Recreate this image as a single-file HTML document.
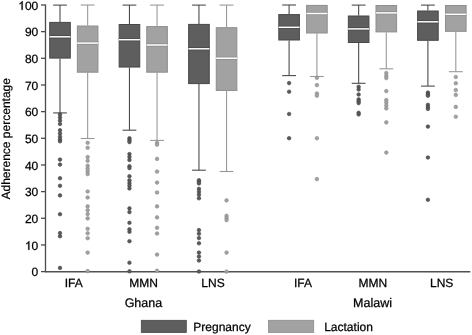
<!DOCTYPE html>
<html><head><meta charset="utf-8"><style>
html,body{margin:0;padding:0;background:#fff;width:472px;height:335px;overflow:hidden}
svg{display:block;will-change:transform}
text{text-rendering:geometricPrecision;font-family:"Liberation Sans",sans-serif;font-size:12px;fill:#000;stroke:#000;stroke-width:0.25px}
</style></head><body>
<svg width="472" height="335" viewBox="0 0 472 335">
<line x1="45.5" y1="4.40" x2="45.5" y2="272.30" stroke="#4a4a4a" stroke-width="1.3"/>
<line x1="45" y1="271.70" x2="470.3" y2="271.70" stroke="#505050" stroke-width="1.5"/>
<line x1="41" y1="271.60" x2="45.5" y2="271.60" stroke="#4a4a4a" stroke-width="1.3"/>
<text x="38.3" y="276.40" text-anchor="end">0</text>
<line x1="41" y1="244.94" x2="45.5" y2="244.94" stroke="#4a4a4a" stroke-width="1.3"/>
<text x="38.3" y="249.74" text-anchor="end">0</text>
<path d="M29.34,249.74 L29.34,241.14 L28.66,241.14 L28.16,241.94 L27.36,242.74 L26.31,243.29 L26.31,244.29 L27.26,243.79 L28.26,243.04 L28.26,249.74 Z" fill="#000" stroke="#000" stroke-width="0.35"/>
<line x1="41" y1="218.28" x2="45.5" y2="218.28" stroke="#4a4a4a" stroke-width="1.3"/>
<text x="38.3" y="223.08" text-anchor="end">20</text>
<line x1="41" y1="191.62" x2="45.5" y2="191.62" stroke="#4a4a4a" stroke-width="1.3"/>
<text x="38.3" y="196.42" text-anchor="end">30</text>
<line x1="41" y1="164.96" x2="45.5" y2="164.96" stroke="#4a4a4a" stroke-width="1.3"/>
<text x="38.3" y="169.76" text-anchor="end">40</text>
<line x1="41" y1="138.30" x2="45.5" y2="138.30" stroke="#4a4a4a" stroke-width="1.3"/>
<text x="38.3" y="143.10" text-anchor="end">50</text>
<line x1="41" y1="111.64" x2="45.5" y2="111.64" stroke="#4a4a4a" stroke-width="1.3"/>
<text x="38.3" y="116.44" text-anchor="end">60</text>
<line x1="41" y1="84.98" x2="45.5" y2="84.98" stroke="#4a4a4a" stroke-width="1.3"/>
<text x="38.3" y="89.78" text-anchor="end">70</text>
<line x1="41" y1="58.32" x2="45.5" y2="58.32" stroke="#4a4a4a" stroke-width="1.3"/>
<text x="38.3" y="63.12" text-anchor="end">80</text>
<line x1="41" y1="31.66" x2="45.5" y2="31.66" stroke="#4a4a4a" stroke-width="1.3"/>
<text x="38.3" y="36.46" text-anchor="end">90</text>
<line x1="41" y1="5.00" x2="45.5" y2="5.00" stroke="#4a4a4a" stroke-width="1.3"/>
<text x="38.3" y="9.80" text-anchor="end">00</text>
<path d="M22.66,9.80 L22.66,1.20 L21.98,1.20 L21.48,2.00 L20.68,2.80 L19.63,3.35 L19.63,4.35 L20.58,3.85 L21.58,3.10 L21.58,9.80 Z" fill="#000" stroke="#000" stroke-width="0.35"/>
<line x1="60.00" y1="5.10" x2="60.00" y2="21.90" stroke="#4c4c4c" stroke-width="1.1"/>
<line x1="53.10" y1="5.10" x2="66.90" y2="5.10" stroke="#4c4c4c" stroke-width="1.1"/>
<line x1="60.00" y1="58.60" x2="60.00" y2="112.90" stroke="#4c4c4c" stroke-width="1.1"/>
<line x1="53.10" y1="112.90" x2="66.90" y2="112.90" stroke="#4c4c4c" stroke-width="1.1"/>
<rect x="49.70" y="22.40" width="20.60" height="35.70" fill="#5e5e5e" stroke="#474747" stroke-width="1"/>
<line x1="49.50" y1="36.80" x2="70.50" y2="36.80" stroke="#474747" stroke-width="3.2"/>
<line x1="49.50" y1="36.80" x2="70.50" y2="36.80" stroke="#ffffff" stroke-width="1.5"/>
<circle cx="60.00" cy="114.40" r="1.8" fill="#5a5a5a" stroke="#444444" stroke-width="0.6"/>
<circle cx="60.00" cy="117.50" r="1.8" fill="#5a5a5a" stroke="#444444" stroke-width="0.6"/>
<circle cx="60.00" cy="120.60" r="1.8" fill="#5a5a5a" stroke="#444444" stroke-width="0.6"/>
<circle cx="60.00" cy="124.00" r="1.8" fill="#5a5a5a" stroke="#444444" stroke-width="0.6"/>
<circle cx="60.00" cy="130.20" r="1.8" fill="#5a5a5a" stroke="#444444" stroke-width="0.6"/>
<circle cx="60.00" cy="133.50" r="1.8" fill="#5a5a5a" stroke="#444444" stroke-width="0.6"/>
<circle cx="60.00" cy="136.70" r="1.8" fill="#5a5a5a" stroke="#444444" stroke-width="0.6"/>
<circle cx="60.00" cy="139.40" r="1.8" fill="#5a5a5a" stroke="#444444" stroke-width="0.6"/>
<circle cx="60.00" cy="141.30" r="1.8" fill="#5a5a5a" stroke="#444444" stroke-width="0.6"/>
<circle cx="60.00" cy="159.60" r="1.8" fill="#5a5a5a" stroke="#444444" stroke-width="0.6"/>
<circle cx="60.00" cy="164.60" r="1.8" fill="#5a5a5a" stroke="#444444" stroke-width="0.6"/>
<circle cx="60.00" cy="178.20" r="1.8" fill="#5a5a5a" stroke="#444444" stroke-width="0.6"/>
<circle cx="60.00" cy="185.80" r="1.8" fill="#5a5a5a" stroke="#444444" stroke-width="0.6"/>
<circle cx="60.00" cy="195.40" r="1.8" fill="#5a5a5a" stroke="#444444" stroke-width="0.6"/>
<circle cx="60.00" cy="214.20" r="1.8" fill="#5a5a5a" stroke="#444444" stroke-width="0.6"/>
<circle cx="60.00" cy="233.10" r="1.8" fill="#5a5a5a" stroke="#444444" stroke-width="0.6"/>
<circle cx="60.00" cy="236.30" r="1.8" fill="#5a5a5a" stroke="#444444" stroke-width="0.6"/>
<circle cx="60.00" cy="267.90" r="1.8" fill="#5a5a5a" stroke="#444444" stroke-width="0.6"/>
<line x1="87.65" y1="5.00" x2="87.65" y2="25.50" stroke="#999999" stroke-width="1.1"/>
<line x1="80.75" y1="5.00" x2="94.55" y2="5.00" stroke="#999999" stroke-width="1.1"/>
<line x1="87.65" y1="72.70" x2="87.65" y2="138.50" stroke="#999999" stroke-width="1.1"/>
<line x1="80.75" y1="138.50" x2="94.55" y2="138.50" stroke="#999999" stroke-width="1.1"/>
<rect x="77.35" y="26.00" width="20.60" height="46.20" fill="#a2a2a2" stroke="#8e8e8e" stroke-width="1"/>
<line x1="77.15" y1="43.10" x2="98.15" y2="43.10" stroke="#8e8e8e" stroke-width="3.2"/>
<line x1="77.15" y1="43.10" x2="98.15" y2="43.10" stroke="#ffffff" stroke-width="1.5"/>
<circle cx="87.65" cy="142.80" r="1.8" fill="#a2a2a2" stroke="#8a8a8a" stroke-width="0.6"/>
<circle cx="87.65" cy="147.80" r="1.8" fill="#a2a2a2" stroke="#8a8a8a" stroke-width="0.6"/>
<circle cx="87.65" cy="157.10" r="1.8" fill="#a2a2a2" stroke="#8a8a8a" stroke-width="0.6"/>
<circle cx="87.65" cy="160.70" r="1.8" fill="#a2a2a2" stroke="#8a8a8a" stroke-width="0.6"/>
<circle cx="87.65" cy="165.70" r="1.8" fill="#a2a2a2" stroke="#8a8a8a" stroke-width="0.6"/>
<circle cx="87.65" cy="168.60" r="1.8" fill="#a2a2a2" stroke="#8a8a8a" stroke-width="0.6"/>
<circle cx="87.65" cy="171.40" r="1.8" fill="#a2a2a2" stroke="#8a8a8a" stroke-width="0.6"/>
<circle cx="87.65" cy="174.10" r="1.8" fill="#a2a2a2" stroke="#8a8a8a" stroke-width="0.6"/>
<circle cx="87.65" cy="191.50" r="1.8" fill="#a2a2a2" stroke="#8a8a8a" stroke-width="0.6"/>
<circle cx="87.65" cy="197.50" r="1.8" fill="#a2a2a2" stroke="#8a8a8a" stroke-width="0.6"/>
<circle cx="87.65" cy="206.40" r="1.8" fill="#a2a2a2" stroke="#8a8a8a" stroke-width="0.6"/>
<circle cx="87.65" cy="210.20" r="1.8" fill="#a2a2a2" stroke="#8a8a8a" stroke-width="0.6"/>
<circle cx="87.65" cy="214.10" r="1.8" fill="#a2a2a2" stroke="#8a8a8a" stroke-width="0.6"/>
<circle cx="87.65" cy="218.40" r="1.8" fill="#a2a2a2" stroke="#8a8a8a" stroke-width="0.6"/>
<circle cx="87.65" cy="228.80" r="1.8" fill="#a2a2a2" stroke="#8a8a8a" stroke-width="0.6"/>
<circle cx="87.65" cy="233.30" r="1.8" fill="#a2a2a2" stroke="#8a8a8a" stroke-width="0.6"/>
<circle cx="87.65" cy="238.20" r="1.8" fill="#a2a2a2" stroke="#8a8a8a" stroke-width="0.6"/>
<circle cx="87.65" cy="252.60" r="1.8" fill="#a2a2a2" stroke="#8a8a8a" stroke-width="0.6"/>
<circle cx="87.65" cy="271.10" r="1.8" fill="#a2a2a2" stroke="#8a8a8a" stroke-width="0.6"/>
<line x1="129.45" y1="5.10" x2="129.45" y2="24.00" stroke="#4c4c4c" stroke-width="1.1"/>
<line x1="122.55" y1="5.10" x2="136.35" y2="5.10" stroke="#4c4c4c" stroke-width="1.1"/>
<line x1="129.45" y1="67.55" x2="129.45" y2="130.20" stroke="#4c4c4c" stroke-width="1.1"/>
<line x1="122.55" y1="130.20" x2="136.35" y2="130.20" stroke="#4c4c4c" stroke-width="1.1"/>
<rect x="119.15" y="24.50" width="20.60" height="42.55" fill="#5e5e5e" stroke="#474747" stroke-width="1"/>
<line x1="118.95" y1="39.70" x2="139.95" y2="39.70" stroke="#474747" stroke-width="3.2"/>
<line x1="118.95" y1="39.70" x2="139.95" y2="39.70" stroke="#ffffff" stroke-width="1.5"/>
<circle cx="129.45" cy="138.20" r="1.8" fill="#5a5a5a" stroke="#444444" stroke-width="0.6"/>
<circle cx="129.45" cy="140.20" r="1.8" fill="#5a5a5a" stroke="#444444" stroke-width="0.6"/>
<circle cx="129.45" cy="142.10" r="1.8" fill="#5a5a5a" stroke="#444444" stroke-width="0.6"/>
<circle cx="129.45" cy="154.10" r="1.8" fill="#5a5a5a" stroke="#444444" stroke-width="0.6"/>
<circle cx="129.45" cy="157.00" r="1.8" fill="#5a5a5a" stroke="#444444" stroke-width="0.6"/>
<circle cx="129.45" cy="160.00" r="1.8" fill="#5a5a5a" stroke="#444444" stroke-width="0.6"/>
<circle cx="129.45" cy="166.20" r="1.8" fill="#5a5a5a" stroke="#444444" stroke-width="0.6"/>
<circle cx="129.45" cy="168.10" r="1.8" fill="#5a5a5a" stroke="#444444" stroke-width="0.6"/>
<circle cx="129.45" cy="176.30" r="1.8" fill="#5a5a5a" stroke="#444444" stroke-width="0.6"/>
<circle cx="129.45" cy="180.30" r="1.8" fill="#5a5a5a" stroke="#444444" stroke-width="0.6"/>
<circle cx="129.45" cy="183.00" r="1.8" fill="#5a5a5a" stroke="#444444" stroke-width="0.6"/>
<circle cx="129.45" cy="185.50" r="1.8" fill="#5a5a5a" stroke="#444444" stroke-width="0.6"/>
<circle cx="129.45" cy="188.40" r="1.8" fill="#5a5a5a" stroke="#444444" stroke-width="0.6"/>
<circle cx="129.45" cy="208.40" r="1.8" fill="#5a5a5a" stroke="#444444" stroke-width="0.6"/>
<circle cx="129.45" cy="212.10" r="1.8" fill="#5a5a5a" stroke="#444444" stroke-width="0.6"/>
<circle cx="129.45" cy="222.80" r="1.8" fill="#5a5a5a" stroke="#444444" stroke-width="0.6"/>
<circle cx="129.45" cy="229.30" r="1.8" fill="#5a5a5a" stroke="#444444" stroke-width="0.6"/>
<circle cx="129.45" cy="231.80" r="1.8" fill="#5a5a5a" stroke="#444444" stroke-width="0.6"/>
<circle cx="129.45" cy="241.20" r="1.8" fill="#5a5a5a" stroke="#444444" stroke-width="0.6"/>
<circle cx="129.45" cy="262.70" r="1.8" fill="#5a5a5a" stroke="#444444" stroke-width="0.6"/>
<circle cx="129.45" cy="271.30" r="1.8" fill="#5a5a5a" stroke="#444444" stroke-width="0.6"/>
<line x1="157.05" y1="5.10" x2="157.05" y2="26.10" stroke="#999999" stroke-width="1.1"/>
<line x1="150.15" y1="5.10" x2="163.95" y2="5.10" stroke="#999999" stroke-width="1.1"/>
<line x1="157.05" y1="72.70" x2="157.05" y2="140.40" stroke="#999999" stroke-width="1.1"/>
<line x1="150.15" y1="140.40" x2="163.95" y2="140.40" stroke="#999999" stroke-width="1.1"/>
<rect x="146.75" y="26.60" width="20.60" height="45.60" fill="#a2a2a2" stroke="#8e8e8e" stroke-width="1"/>
<line x1="146.55" y1="45.00" x2="167.55" y2="45.00" stroke="#8e8e8e" stroke-width="3.2"/>
<line x1="146.55" y1="45.00" x2="167.55" y2="45.00" stroke="#ffffff" stroke-width="1.5"/>
<circle cx="157.05" cy="142.80" r="1.8" fill="#a2a2a2" stroke="#8a8a8a" stroke-width="0.6"/>
<circle cx="157.05" cy="144.70" r="1.8" fill="#a2a2a2" stroke="#8a8a8a" stroke-width="0.6"/>
<circle cx="157.05" cy="158.90" r="1.8" fill="#a2a2a2" stroke="#8a8a8a" stroke-width="0.6"/>
<circle cx="157.05" cy="171.60" r="1.8" fill="#a2a2a2" stroke="#8a8a8a" stroke-width="0.6"/>
<circle cx="157.05" cy="182.60" r="1.8" fill="#a2a2a2" stroke="#8a8a8a" stroke-width="0.6"/>
<circle cx="157.05" cy="192.50" r="1.8" fill="#a2a2a2" stroke="#8a8a8a" stroke-width="0.6"/>
<circle cx="157.05" cy="206.40" r="1.8" fill="#a2a2a2" stroke="#8a8a8a" stroke-width="0.6"/>
<circle cx="157.05" cy="217.40" r="1.8" fill="#a2a2a2" stroke="#8a8a8a" stroke-width="0.6"/>
<circle cx="157.05" cy="227.80" r="1.8" fill="#a2a2a2" stroke="#8a8a8a" stroke-width="0.6"/>
<circle cx="157.05" cy="233.50" r="1.8" fill="#a2a2a2" stroke="#8a8a8a" stroke-width="0.6"/>
<circle cx="157.05" cy="254.60" r="1.8" fill="#a2a2a2" stroke="#8a8a8a" stroke-width="0.6"/>
<circle cx="157.05" cy="270.70" r="1.8" fill="#a2a2a2" stroke="#8a8a8a" stroke-width="0.6"/>
<line x1="198.95" y1="5.10" x2="198.95" y2="23.90" stroke="#4c4c4c" stroke-width="1.1"/>
<line x1="192.05" y1="5.10" x2="205.85" y2="5.10" stroke="#4c4c4c" stroke-width="1.1"/>
<line x1="198.95" y1="84.10" x2="198.95" y2="170.20" stroke="#4c4c4c" stroke-width="1.1"/>
<line x1="192.05" y1="170.20" x2="205.85" y2="170.20" stroke="#4c4c4c" stroke-width="1.1"/>
<rect x="188.65" y="24.40" width="20.60" height="59.20" fill="#5e5e5e" stroke="#474747" stroke-width="1"/>
<line x1="188.45" y1="48.80" x2="209.45" y2="48.80" stroke="#474747" stroke-width="3.2"/>
<line x1="188.45" y1="48.80" x2="209.45" y2="48.80" stroke="#ffffff" stroke-width="1.5"/>
<circle cx="198.95" cy="180.20" r="1.8" fill="#5a5a5a" stroke="#444444" stroke-width="0.6"/>
<circle cx="198.95" cy="181.80" r="1.8" fill="#5a5a5a" stroke="#444444" stroke-width="0.6"/>
<circle cx="198.95" cy="183.40" r="1.8" fill="#5a5a5a" stroke="#444444" stroke-width="0.6"/>
<circle cx="198.95" cy="188.90" r="1.8" fill="#5a5a5a" stroke="#444444" stroke-width="0.6"/>
<circle cx="198.95" cy="191.80" r="1.8" fill="#5a5a5a" stroke="#444444" stroke-width="0.6"/>
<circle cx="198.95" cy="194.80" r="1.8" fill="#5a5a5a" stroke="#444444" stroke-width="0.6"/>
<circle cx="198.95" cy="198.30" r="1.8" fill="#5a5a5a" stroke="#444444" stroke-width="0.6"/>
<circle cx="198.95" cy="230.10" r="1.8" fill="#5a5a5a" stroke="#444444" stroke-width="0.6"/>
<circle cx="198.95" cy="233.70" r="1.8" fill="#5a5a5a" stroke="#444444" stroke-width="0.6"/>
<circle cx="198.95" cy="238.10" r="1.8" fill="#5a5a5a" stroke="#444444" stroke-width="0.6"/>
<circle cx="198.95" cy="243.30" r="1.8" fill="#5a5a5a" stroke="#444444" stroke-width="0.6"/>
<circle cx="198.95" cy="252.60" r="1.8" fill="#5a5a5a" stroke="#444444" stroke-width="0.6"/>
<circle cx="198.95" cy="256.50" r="1.8" fill="#5a5a5a" stroke="#444444" stroke-width="0.6"/>
<circle cx="198.95" cy="260.50" r="1.8" fill="#5a5a5a" stroke="#444444" stroke-width="0.6"/>
<circle cx="198.95" cy="271.50" r="1.8" fill="#5a5a5a" stroke="#444444" stroke-width="0.6"/>
<line x1="226.55" y1="5.10" x2="226.55" y2="27.20" stroke="#999999" stroke-width="1.1"/>
<line x1="219.65" y1="5.10" x2="233.45" y2="5.10" stroke="#999999" stroke-width="1.1"/>
<line x1="226.55" y1="90.95" x2="226.55" y2="171.50" stroke="#999999" stroke-width="1.1"/>
<line x1="219.65" y1="171.50" x2="233.45" y2="171.50" stroke="#999999" stroke-width="1.1"/>
<rect x="216.25" y="27.70" width="20.60" height="62.75" fill="#a2a2a2" stroke="#8e8e8e" stroke-width="1"/>
<line x1="216.05" y1="58.20" x2="237.05" y2="58.20" stroke="#8e8e8e" stroke-width="3.2"/>
<line x1="216.05" y1="58.20" x2="237.05" y2="58.20" stroke="#ffffff" stroke-width="1.5"/>
<circle cx="226.55" cy="200.40" r="1.8" fill="#a2a2a2" stroke="#8a8a8a" stroke-width="0.6"/>
<circle cx="226.55" cy="215.90" r="1.8" fill="#a2a2a2" stroke="#8a8a8a" stroke-width="0.6"/>
<circle cx="226.55" cy="218.00" r="1.8" fill="#a2a2a2" stroke="#8a8a8a" stroke-width="0.6"/>
<circle cx="226.55" cy="220.10" r="1.8" fill="#a2a2a2" stroke="#8a8a8a" stroke-width="0.6"/>
<circle cx="226.55" cy="252.60" r="1.8" fill="#a2a2a2" stroke="#8a8a8a" stroke-width="0.6"/>
<circle cx="226.55" cy="271.60" r="1.8" fill="#a2a2a2" stroke="#8a8a8a" stroke-width="0.6"/>
<line x1="289.10" y1="5.00" x2="289.10" y2="14.10" stroke="#4c4c4c" stroke-width="1.1"/>
<line x1="282.20" y1="5.00" x2="296.00" y2="5.00" stroke="#4c4c4c" stroke-width="1.1"/>
<line x1="289.10" y1="40.50" x2="289.10" y2="75.60" stroke="#4c4c4c" stroke-width="1.1"/>
<line x1="282.20" y1="75.60" x2="296.00" y2="75.60" stroke="#4c4c4c" stroke-width="1.1"/>
<rect x="278.80" y="14.60" width="20.60" height="25.40" fill="#5e5e5e" stroke="#474747" stroke-width="1"/>
<line x1="278.60" y1="27.30" x2="299.60" y2="27.30" stroke="#474747" stroke-width="3.2"/>
<line x1="278.60" y1="27.30" x2="299.60" y2="27.30" stroke="#ffffff" stroke-width="1.5"/>
<circle cx="289.10" cy="83.10" r="1.8" fill="#5a5a5a" stroke="#444444" stroke-width="0.6"/>
<circle cx="289.10" cy="91.70" r="1.8" fill="#5a5a5a" stroke="#444444" stroke-width="0.6"/>
<circle cx="289.10" cy="114.00" r="1.8" fill="#5a5a5a" stroke="#444444" stroke-width="0.6"/>
<circle cx="289.10" cy="138.20" r="1.8" fill="#5a5a5a" stroke="#444444" stroke-width="0.6"/>
<line x1="316.90" y1="33.50" x2="316.90" y2="76.50" stroke="#999999" stroke-width="1.1"/>
<line x1="310.00" y1="76.50" x2="323.80" y2="76.50" stroke="#999999" stroke-width="1.1"/>
<rect x="306.60" y="5.40" width="20.60" height="27.60" fill="#a2a2a2" stroke="#8e8e8e" stroke-width="1"/>
<line x1="306.40" y1="13.50" x2="327.40" y2="13.50" stroke="#8e8e8e" stroke-width="3.2"/>
<line x1="306.40" y1="13.50" x2="327.40" y2="13.50" stroke="#ffffff" stroke-width="1.5"/>
<circle cx="316.90" cy="77.80" r="1.8" fill="#a2a2a2" stroke="#8a8a8a" stroke-width="0.6"/>
<circle cx="316.90" cy="85.10" r="1.8" fill="#a2a2a2" stroke="#8a8a8a" stroke-width="0.6"/>
<circle cx="316.90" cy="93.50" r="1.8" fill="#a2a2a2" stroke="#8a8a8a" stroke-width="0.6"/>
<circle cx="316.90" cy="95.70" r="1.8" fill="#a2a2a2" stroke="#8a8a8a" stroke-width="0.6"/>
<circle cx="316.90" cy="138.20" r="1.8" fill="#a2a2a2" stroke="#8a8a8a" stroke-width="0.6"/>
<circle cx="316.90" cy="179.10" r="1.8" fill="#a2a2a2" stroke="#8a8a8a" stroke-width="0.6"/>
<line x1="358.65" y1="5.10" x2="358.65" y2="15.50" stroke="#4c4c4c" stroke-width="1.1"/>
<line x1="351.75" y1="5.10" x2="365.55" y2="5.10" stroke="#4c4c4c" stroke-width="1.1"/>
<line x1="358.65" y1="43.00" x2="358.65" y2="83.30" stroke="#4c4c4c" stroke-width="1.1"/>
<line x1="351.75" y1="83.30" x2="365.55" y2="83.30" stroke="#4c4c4c" stroke-width="1.1"/>
<rect x="348.35" y="16.00" width="20.60" height="26.50" fill="#5e5e5e" stroke="#474747" stroke-width="1"/>
<line x1="348.15" y1="28.90" x2="369.15" y2="28.90" stroke="#474747" stroke-width="3.2"/>
<line x1="348.15" y1="28.90" x2="369.15" y2="28.90" stroke="#ffffff" stroke-width="1.5"/>
<circle cx="358.65" cy="86.70" r="1.8" fill="#5a5a5a" stroke="#444444" stroke-width="0.6"/>
<circle cx="358.65" cy="89.50" r="1.8" fill="#5a5a5a" stroke="#444444" stroke-width="0.6"/>
<circle cx="358.65" cy="94.50" r="1.8" fill="#5a5a5a" stroke="#444444" stroke-width="0.6"/>
<circle cx="358.65" cy="99.40" r="1.8" fill="#5a5a5a" stroke="#444444" stroke-width="0.6"/>
<circle cx="358.65" cy="101.30" r="1.8" fill="#5a5a5a" stroke="#444444" stroke-width="0.6"/>
<circle cx="358.65" cy="103.10" r="1.8" fill="#5a5a5a" stroke="#444444" stroke-width="0.6"/>
<circle cx="358.65" cy="112.80" r="1.8" fill="#5a5a5a" stroke="#444444" stroke-width="0.6"/>
<circle cx="358.65" cy="114.40" r="1.8" fill="#5a5a5a" stroke="#444444" stroke-width="0.6"/>
<line x1="386.30" y1="32.40" x2="386.30" y2="68.80" stroke="#999999" stroke-width="1.1"/>
<line x1="379.40" y1="68.80" x2="393.20" y2="68.80" stroke="#999999" stroke-width="1.1"/>
<rect x="376.00" y="5.50" width="20.60" height="26.40" fill="#a2a2a2" stroke="#8e8e8e" stroke-width="1"/>
<line x1="375.80" y1="12.90" x2="396.80" y2="12.90" stroke="#8e8e8e" stroke-width="3.2"/>
<line x1="375.80" y1="12.90" x2="396.80" y2="12.90" stroke="#ffffff" stroke-width="1.5"/>
<circle cx="386.30" cy="73.00" r="1.8" fill="#a2a2a2" stroke="#8a8a8a" stroke-width="0.6"/>
<circle cx="386.30" cy="75.80" r="1.8" fill="#a2a2a2" stroke="#8a8a8a" stroke-width="0.6"/>
<circle cx="386.30" cy="78.10" r="1.8" fill="#a2a2a2" stroke="#8a8a8a" stroke-width="0.6"/>
<circle cx="386.30" cy="91.10" r="1.8" fill="#a2a2a2" stroke="#8a8a8a" stroke-width="0.6"/>
<circle cx="386.30" cy="100.00" r="1.8" fill="#a2a2a2" stroke="#8a8a8a" stroke-width="0.6"/>
<circle cx="386.30" cy="102.50" r="1.8" fill="#a2a2a2" stroke="#8a8a8a" stroke-width="0.6"/>
<circle cx="386.30" cy="105.50" r="1.8" fill="#a2a2a2" stroke="#8a8a8a" stroke-width="0.6"/>
<circle cx="386.30" cy="108.40" r="1.8" fill="#a2a2a2" stroke="#8a8a8a" stroke-width="0.6"/>
<circle cx="386.30" cy="122.40" r="1.8" fill="#a2a2a2" stroke="#8a8a8a" stroke-width="0.6"/>
<circle cx="386.30" cy="152.60" r="1.8" fill="#a2a2a2" stroke="#8a8a8a" stroke-width="0.6"/>
<line x1="427.90" y1="5.10" x2="427.90" y2="10.50" stroke="#4c4c4c" stroke-width="1.1"/>
<line x1="421.00" y1="5.10" x2="434.80" y2="5.10" stroke="#4c4c4c" stroke-width="1.1"/>
<line x1="427.90" y1="40.80" x2="427.90" y2="86.10" stroke="#4c4c4c" stroke-width="1.1"/>
<line x1="421.00" y1="86.10" x2="434.80" y2="86.10" stroke="#4c4c4c" stroke-width="1.1"/>
<rect x="417.60" y="11.00" width="20.60" height="29.30" fill="#5e5e5e" stroke="#474747" stroke-width="1"/>
<line x1="417.40" y1="21.80" x2="438.40" y2="21.80" stroke="#474747" stroke-width="3.2"/>
<line x1="417.40" y1="21.80" x2="438.40" y2="21.80" stroke="#ffffff" stroke-width="1.5"/>
<circle cx="427.90" cy="92.60" r="1.8" fill="#5a5a5a" stroke="#444444" stroke-width="0.6"/>
<circle cx="427.90" cy="94.15" r="1.8" fill="#5a5a5a" stroke="#444444" stroke-width="0.6"/>
<circle cx="427.90" cy="95.70" r="1.8" fill="#5a5a5a" stroke="#444444" stroke-width="0.6"/>
<circle cx="427.90" cy="104.90" r="1.8" fill="#5a5a5a" stroke="#444444" stroke-width="0.6"/>
<circle cx="427.90" cy="106.90" r="1.8" fill="#5a5a5a" stroke="#444444" stroke-width="0.6"/>
<circle cx="427.90" cy="108.90" r="1.8" fill="#5a5a5a" stroke="#444444" stroke-width="0.6"/>
<circle cx="427.90" cy="126.60" r="1.8" fill="#5a5a5a" stroke="#444444" stroke-width="0.6"/>
<circle cx="427.90" cy="157.50" r="1.8" fill="#5a5a5a" stroke="#444444" stroke-width="0.6"/>
<circle cx="427.90" cy="199.80" r="1.8" fill="#5a5a5a" stroke="#444444" stroke-width="0.6"/>
<line x1="455.80" y1="31.80" x2="455.80" y2="71.70" stroke="#999999" stroke-width="1.1"/>
<line x1="448.90" y1="71.70" x2="462.70" y2="71.70" stroke="#999999" stroke-width="1.1"/>
<rect x="445.50" y="5.50" width="20.60" height="25.80" fill="#a2a2a2" stroke="#8e8e8e" stroke-width="1"/>
<line x1="445.30" y1="14.30" x2="466.30" y2="14.30" stroke="#8e8e8e" stroke-width="3.2"/>
<line x1="445.30" y1="14.30" x2="466.30" y2="14.30" stroke="#ffffff" stroke-width="1.5"/>
<circle cx="455.80" cy="77.00" r="1.8" fill="#a2a2a2" stroke="#8a8a8a" stroke-width="0.6"/>
<circle cx="455.80" cy="83.30" r="1.8" fill="#a2a2a2" stroke="#8a8a8a" stroke-width="0.6"/>
<circle cx="455.80" cy="90.10" r="1.8" fill="#a2a2a2" stroke="#8a8a8a" stroke-width="0.6"/>
<circle cx="455.80" cy="94.90" r="1.8" fill="#a2a2a2" stroke="#8a8a8a" stroke-width="0.6"/>
<circle cx="455.80" cy="106.90" r="1.8" fill="#a2a2a2" stroke="#8a8a8a" stroke-width="0.6"/>
<circle cx="455.80" cy="116.70" r="1.8" fill="#a2a2a2" stroke="#8a8a8a" stroke-width="0.6"/>
<text x="73.7" y="287.15" text-anchor="middle">IFA</text>
<text x="143.6" y="287.15" text-anchor="middle">MMN</text>
<text x="213.0" y="287.15" text-anchor="middle">LNS</text>
<text x="303.0" y="287.15" text-anchor="middle">IFA</text>
<text x="372.8" y="287.15" text-anchor="middle">MMN</text>
<text x="441.7" y="287.15" text-anchor="middle">LNS</text>
<text x="143.4" y="306.8" text-anchor="middle" style="font-size:12.5px">Ghana</text>
<text x="372.5" y="306.8" text-anchor="middle" style="font-size:12.5px">Malawi</text>
<text transform="translate(10.2,138.8) rotate(-90)" text-anchor="middle" style="stroke-width:0.2px">Adherence percentage</text>
<rect x="141.3" y="320.3" width="45.0" height="12.2" fill="#5e5e5e" stroke="#474747" stroke-width="0.8"/>
<text x="193.3" y="330.6">Pregnancy</text>
<rect x="268.4" y="320.3" width="45.3" height="12.2" fill="#a2a2a2" stroke="#8e8e8e" stroke-width="0.8"/>
<text x="324.2" y="330.6">Lactation</text>
</svg>
</body></html>
